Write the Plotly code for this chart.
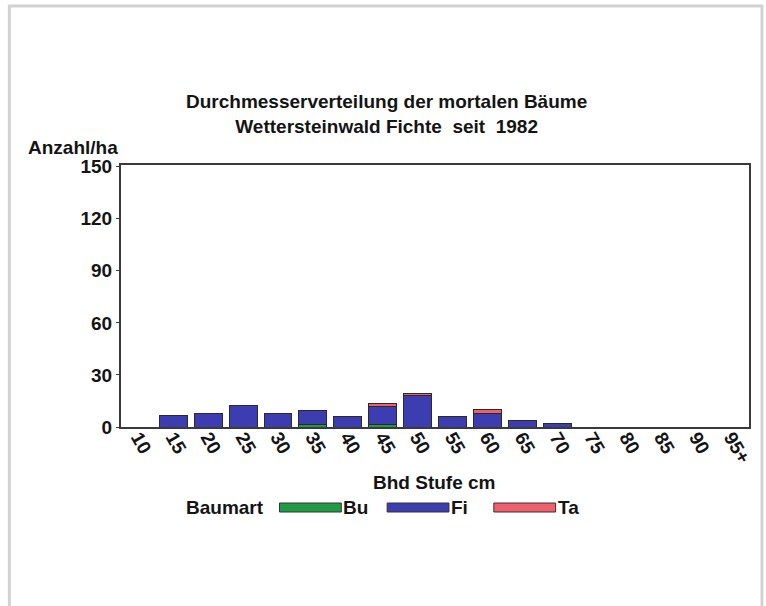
import plotly.graph_objects as go

# Diameter classes (Bhd Stufe, cm)
classes = ["10", "15", "20", "25", "30", "35", "40", "45", "50",
           "55", "60", "65", "70", "75", "80", "85", "90", "95+"]

# Dead trees per hectare, by species
bu = [0, 0, 0, 0, 0, 1.3, 0, 1.4, 0, 0, 0, 0, 0, 0, 0, 0, 0, 0]
fi = [0, 6.4, 7.8, 12.2, 7.6, 8.2, 5.8, 10.6, 17.9, 6.2, 8.0, 3.9, 1.9, 0, 0, 0, 0, 0]
ta = [0, 0, 0, 0, 0, 0, 0, 1.7, 1.6, 0, 2.0, 0, 0, 0, 0, 0, 0, 0]

species = ["Bu", "Fi", "Ta"]
colors = ["#1f9a45", "#3c3db0", "#f0606c"]
series = [bu, fi, ta]

y_ticks = [0, 30, 60, 90, 120, 150]

FONT = "Liberation Sans"
INK = "#141414"
FS = 19
BOLD = dict(family=FONT, size=FS, color=INK, weight="bold")

W, H = 766, 606
L, R, T, B = 121, 751, 165, 427   # plot area in pixels


def px(x):
    return (x - L) / (R - L)


def py(y):
    return (B - y) / (B - T)


fig = go.Figure()
for name, vals, col in zip(species, series, colors):
    fig.add_trace(go.Bar(
        x=classes, y=vals, name=name,
        marker=dict(color=col, line=dict(color="#2a2a2a", width=1)),
        showlegend=False,
    ))

shapes = []
annotations = []

# outer frame of the graphic
shapes.append(dict(type="rect", xref="paper", yref="paper",
                   x0=px(9), x1=px(764), y0=py(640), y1=py(6),
                   line=dict(color="#d2d2d2", width=3), layer="below"))

# custom legend row
annotations.append(dict(text="Baumart", xref="paper", yref="paper",
                        x=px(184), y=py(507), xanchor="left", yanchor="middle",
                        showarrow=False, font=BOLD))
swatch_x = [280, 388, 495]
for sx, name, col in zip(swatch_x, species, colors):
    shapes.append(dict(type="rect", xref="paper", yref="paper",
                       x0=px(sx), x1=px(sx + 62), y0=py(512), y1=py(503),
                       fillcolor=col, line=dict(color="#333333", width=1)))
    annotations.append(dict(text=name, xref="paper", yref="paper",
                            x=px(sx + 62), y=py(507), xanchor="left", yanchor="middle",
                            showarrow=False, font=BOLD))

# title
annotations.append(dict(text="Durchmesserverteilung der mortalen Bäume<br>Wettersteinwald Fichte  seit  1982",
                        xref="paper", yref="paper", x=px(387), y=py(114),
                        xanchor="center", yanchor="middle", showarrow=False,
                        font=BOLD))
# y axis title
annotations.append(dict(text="Anzahl/ha", xref="paper", yref="paper",
                        x=px(26), y=py(147), xanchor="left", yanchor="middle",
                        showarrow=False, font=BOLD))
# x axis title
annotations.append(dict(text="Bhd Stufe cm", xref="paper", yref="paper",
                        x=px(435), y=py(482), xanchor="center", yanchor="middle",
                        showarrow=False, font=BOLD))

fig.update_layout(
    width=W, height=H,
    margin=dict(l=L, r=W - R, t=T, b=H - B, pad=0),
    barmode="stack", bargap=0.2,
    paper_bgcolor="white", plot_bgcolor="white",
    font=BOLD,
    shapes=shapes, annotations=annotations,
    xaxis=dict(type="category", tickangle=60, showgrid=False,
               showline=True, linecolor="#3a3a3a", linewidth=2, mirror=True,
               ticks="", tickfont=BOLD, ticklabelstandoff=-10),
    yaxis=dict(range=[0, 151], tickvals=y_ticks, showgrid=False, zeroline=False,
               showline=True, linecolor="#3a3a3a", linewidth=2, mirror=True,
               ticks="outside", ticklen=3, tickcolor="#3a3a3a",
               tickfont=BOLD),
)

fig.write_html("out.html")
